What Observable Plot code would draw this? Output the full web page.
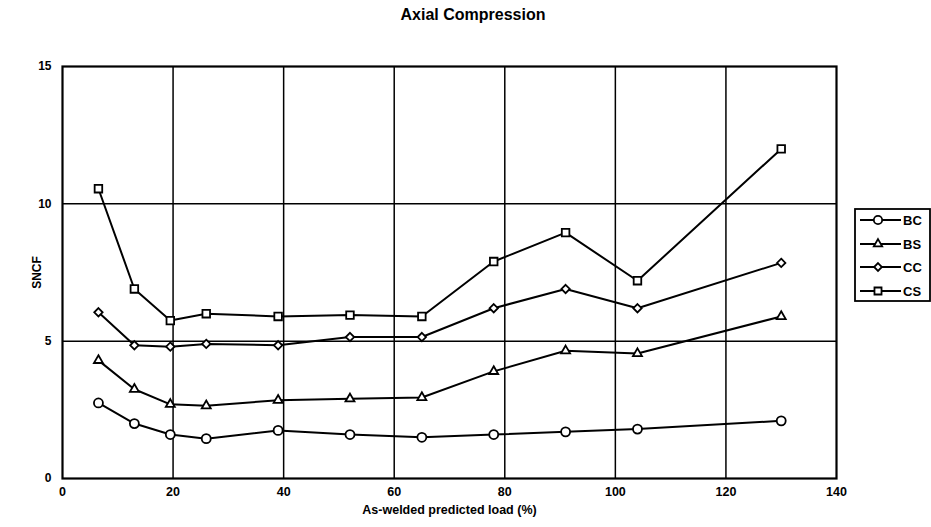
<!DOCTYPE html>
<html>
<head>
<meta charset="utf-8">
<script src="https://cdn.jsdelivr.net/npm/d3@7"></script>
<script src="https://cdn.jsdelivr.net/npm/@observablehq/plot@0.6"></script>
<style>
  body { margin: 0; background: #fff; font-family: "Liberation Sans", Arial, sans-serif; }
  #wrap { position: relative; width: 931px; height: 527px; }
  #title { height: 30px; line-height: 30px; font-weight: bold; font-size: 16px; text-align: center; width: 946px; }
  #legend { position: absolute; left: 854px; top: 208px; }
</style>
</head>
<body>
<div id="wrap">
  <div id="title">Axial Compression</div>
  <div id="chart"></div>
  <div id="legend"></div>
</div>
<script>
// Data
const loads = [6.5, 13, 19.5, 26, 39, 52, 65, 78, 91, 104, 130];
const seriesNames = ["BC", "BS", "CC", "CS"];
const BC = [2.75, 2.0, 1.6, 1.45, 1.75, 1.6, 1.5, 1.6, 1.7, 1.8, 2.1];
const BS = [4.3, 3.25, 2.7, 2.65, 2.85, 2.9, 2.95, 3.9, 4.65, 4.55, 5.9];
const CC = [6.05, 4.85, 4.8, 4.9, 4.85, 5.15, 5.15, 6.2, 6.9, 6.2, 7.85];
const CS = [10.55, 6.9, 5.75, 6.0, 5.9, 5.95, 5.9, 7.9, 8.95, 7.2, 12.0];
const xTicks = [0, 20, 40, 60, 80, 100, 120, 140];
const yTicks = [0, 5, 10, 15];

const values = {BC, BS, CC, CS};
const data = seriesNames.flatMap(s => loads.map((x, i) => ({series: s, x, y: values[s][i]})));
const scaled = (sym, k) => ({draw(ctx, size) { sym.draw(ctx, size * k); }});
const symbols = [scaled(d3.symbolCircle, 1), scaled(d3.symbolTriangle, 0.55), scaled(d3.symbolDiamond2, 0.7), scaled(d3.symbolSquare, 0.9)];

const chart = Plot.plot({
  width: 931,
  height: 497,
  marginTop: 36,
  marginBottom: 49,
  marginLeft: 62,
  marginRight: 95,
  style: {fontFamily: "'Liberation Sans', Arial, sans-serif", fontWeight: "bold", fontSize: "12px", color: "black", background: "white"},
  x: {domain: [0, 140]},
  y: {domain: [0, 15]},
  symbol: {domain: seriesNames, range: symbols},
  marks: [
    Plot.gridX(xTicks.filter(t => t > 0 && t < 140), {stroke: "black", strokeOpacity: 1, strokeWidth: 1.5}),
    Plot.gridY(yTicks.filter(t => t > 0 && t < 15), {stroke: "black", strokeOpacity: 1, strokeWidth: 1.5}),
    Plot.frame({stroke: "black", strokeWidth: 2.2}),
    Plot.axisX(xTicks, {tickSize: 0, tickPadding: 9, fontSize: 12, fontWeight: "bold",
      label: "As-welded predicted load (%)", labelAnchor: "center", labelArrow: "none", labelOffset: 35, fontSize: 12.5}),
    Plot.axisY(yTicks, {tickSize: 0, tickPadding: 11, fontSize: 12, fontWeight: "bold",
      label: "SNCF", labelAnchor: "center", labelArrow: "none", labelOffset: 30}),
    Plot.line(data, {x: "x", y: "y", z: "series", stroke: "black", strokeWidth: 2}),
    Plot.dot(data, {x: "x", y: "y", symbol: "series", fill: "white", stroke: "black", strokeWidth: 1.8, r: 4.5})
  ]
});
document.getElementById("chart").appendChild(chart);

// Legend
const lw = 77, lh = 94, rowY = [12, 36, 59, 83];
const leg = d3.select("#legend").append("svg").attr("width", lw).attr("height", lh);
leg.append("rect").attr("x", 1).attr("y", 1).attr("width", lw - 2).attr("height", lh - 2)
  .attr("fill", "white").attr("stroke", "black").attr("stroke-width", 1.8);
seriesNames.forEach((s, i) => {
  const g = leg.append("g").attr("transform", `translate(0,${rowY[i]})`);
  g.append("line").attr("x1", 6).attr("x2", 47).attr("stroke", "black").attr("stroke-width", 2);
  g.append("path").attr("transform", "translate(24,0)")
    .attr("d", d3.symbol(symbols[i], 55)())
    .attr("fill", "white").attr("stroke", "black").attr("stroke-width", 1.8);
  g.append("text").attr("x", 49).attr("dy", "0.35em").attr("font-size", 13).attr("font-weight", "bold")
    .attr("font-family", "'Liberation Sans', Arial, sans-serif").text(s);
});
</script>
</body>
</html>
